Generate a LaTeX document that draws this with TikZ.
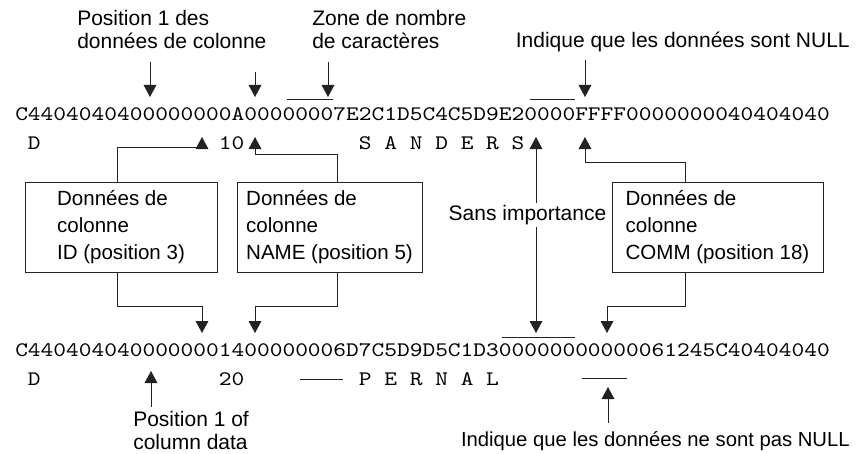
\documentclass[tikz,border=0pt]{standalone}
\usepackage{fontspec}
\setmainfont{Liberation Sans}
\newfontfamily\hexfont[FakeStretch=1.173]{lmmono10-regular.otf}
\usepackage{xcolor}
\usepackage{tikz}
\usetikzlibrary{arrows.meta,positioning,calc}
\definecolor{linegray}{HTML}{222222}

\begin{document}
\begin{tikzpicture}[
    x=0.75pt, y=-0.75pt,
    hexrow/.style={
        anchor=base west,
        inner sep=0pt,
        font={\hexfont\fontsize{15.5pt}{18pt}\selectfont}
    },
    notetext/.style={
        align=left,
        inner sep=0pt,
        font={\fontsize{15.75pt}{17.25pt}\selectfont}
    },
    colbox/.style={
        rectangle,
        draw=linegray,
        line width=0.7pt,
        align=left,
        minimum height=67.5pt,
        font={\fontsize{15.4pt}{20pt}\selectfont}
    },
    arrow/.style={
        -{Triangle[length=9pt,width=9.5pt]},
        draw=linegray,
        line width=0.7pt
    },
    barline/.style={
        draw=linegray,
        line width=0.7pt
    }
]

\useasboundingbox (0,0) rectangle (856,453);

% =========================
% Top notes
% =========================

\node[notetext, anchor=north west] (pos1) at (77,10)
{Position 1 des\\données de colonne};

\node[notetext, anchor=north west] (zone) at (312,10)
{Zone de nombre\\de caractères};

\node[notetext, anchor=base east] (nulltop) at (850,48)
{Indique que les données sont NULL};

% =========================
% First row (SANDERS)
% =========================

\node[hexrow] (hex1) at (15,120)
{C4404040400000000A00000007E2C1D5C4C5D9E20000FFFF0000000040404040};

\node[hexrow] (dchar1) at (27.7,149) {D};
\node[hexrow] (idval1) at (218.7,149) {10};
\node[hexrow] (name1) at (358.7,149) {S A N D E R S};

\draw[barline] (287,99) -- (333,99);
\draw[barline] (530,99) -- (575,99);

% =========================
% Column boxes
% =========================

\node[colbox, minimum width=144pt] (idbox) at (121,227)
{Données de\\colonne\\ID (position 3)};

\node[colbox, minimum width=138.75pt] (namebox) at (329.5,227)
{Données de\\colonne\\NAME (position 5)};

\node[colbox, minimum width=158.25pt] (commbox) at (717.5,227)
{Données de\\colonne\\COMM (position 18)};

\node[notetext, fill=white, inner sep=1.5pt, anchor=base] (sans) at (527.5,220)
{Sans importance};

% =========================
% Second row (PERNAL)
% =========================

\node[hexrow] (hex2) at (15,356)
{C4404040400000001400000006D7C5D9D5C1D300000000000061245C40404040};

\node[hexrow] (dchar2) at (27.7,385) {D};
\node[hexrow] (idval2) at (218.7,385) {20};
\node[hexrow] (name2) at (358.7,385) {P E R N A L};

\draw[barline] (300,379) -- (343,379);
\draw[barline] (502,337) -- (575,337);
\draw[barline] (582,378) -- (627,378);

% =========================
% Bottom notes
% =========================

\node[notetext, anchor=north west] (pos1b) at (133,411)
{Position 1 of\\column data};

\node[notetext, anchor=base east, font={\fontsize{15.2pt}{17pt}\selectfont}] (nullbot) at (850,446)
{Indique que les données ne sont pas NULL};

% =========================
% Arrow targets
% =========================

\coordinate (t-pos1) at (150,97);
\coordinate (a-top) at (255,72);
\coordinate (t-a) at (255,97);
\coordinate (t-zone) at (328,97);
\coordinate (t-null) at (585,97);

\coordinate (t-id) at (202,137);
\coordinate (t-name) at (255,137);
\coordinate (t-sans) at (536,137);
\coordinate (t-comm) at (585,137);

\coordinate (b-id) at (202,333);
\coordinate (b-name) at (255,333);
\coordinate (b-sans) at (536,333);
\coordinate (b-comm) at (607,333);

\coordinate (b-pos1) at (151,371);
\coordinate (b-null) at (608,387);

% =========================
% Arrows from the notes
% =========================

\draw[arrow, shorten <=9.75pt] (pos1.south -| t-pos1) -- (t-pos1);
\draw[arrow] (a-top) -- (t-a);
\draw[arrow, shorten <=9.75pt] (zone.south -| t-zone) -- (t-zone);
\draw[arrow, shorten <=5.7pt] (nulltop.south -| t-null) -- (t-null);

\draw[arrow, shorten <=3pt] (pos1b.north -| b-pos1) -- (b-pos1);
\draw[arrow, shorten <=5.5pt] (nullbot.north -| b-null) -- (b-null);

% =========================
% Box connections
% =========================

\draw[arrow] ([xshift=-3pt]idbox.north) |- ([yshift=-7.5pt]t-id) -- (t-id);
\draw[arrow] ([xshift=5.6pt]namebox.north) |- ([yshift=-12.75pt]t-name) -- (t-name);
\draw[arrow] ([xshift=-24.4pt]commbox.north) |- ([yshift=-18.75pt]t-comm) -- (t-comm);

\draw[arrow] ([xshift=-3pt]idbox.south) |- ([yshift=20.25pt]b-id) -- (b-id);
\draw[arrow] ([xshift=5.6pt]namebox.south) |- ([yshift=20.25pt]b-name) -- (b-name);
\draw[arrow] ([xshift=-24.4pt]commbox.south) |- ([yshift=20.25pt]b-comm) -- (b-comm);

\draw[arrow] (sans.north -| t-sans) -- (t-sans);
\draw[arrow] (sans.south -| b-sans) -- (b-sans);

\end{tikzpicture}
\end{document}
